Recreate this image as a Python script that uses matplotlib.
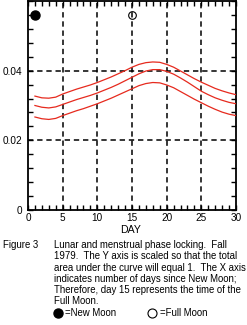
import matplotlib
matplotlib.use("Agg")
import matplotlib.pyplot as plt
from matplotlib.ticker import MultipleLocator, FuncFormatter

# Data
days = list(range(1, 31))
upper = [0.0327, 0.0322, 0.0321, 0.0324, 0.0333, 0.0340, 0.0347, 0.0353, 0.0359, 0.0366,
         0.0374, 0.0382, 0.0391, 0.0400, 0.0410, 0.0418, 0.0423, 0.0425, 0.0424, 0.0418,
         0.0410, 0.0399, 0.0388, 0.0377, 0.0367, 0.0358, 0.0349, 0.0342, 0.0336, 0.0331]
middle = [0.0300, 0.0295, 0.0293, 0.0296, 0.0303, 0.0310, 0.0317, 0.0323, 0.0329, 0.0336,
          0.0344, 0.0352, 0.0361, 0.0371, 0.0381, 0.0391, 0.0399, 0.0403, 0.0403, 0.0398,
          0.0390, 0.0379, 0.0367, 0.0354, 0.0341, 0.0331, 0.0322, 0.0315, 0.0309, 0.0305]
lower = [0.0267, 0.0262, 0.0260, 0.0263, 0.0271, 0.0278, 0.0285, 0.0291, 0.0298, 0.0305,
         0.0313, 0.0321, 0.0330, 0.0339, 0.0348, 0.0357, 0.0363, 0.0366, 0.0365, 0.0359,
         0.0351, 0.0340, 0.0329, 0.0318, 0.0308, 0.0298, 0.0289, 0.0281, 0.0275, 0.0271]

new_moon_day = 1
full_moon_day = 15
moon_level = 0.056

grid_x = [5, 10, 15, 20, 25]
grid_y = [0.02, 0.04]

x_label = "DAY"
fig_label = "Figure 3"
caption = [
    "Lunar and menstrual phase locking.  Fall",
    "1979.  The Y axis is scaled so that the total",
    "area under the curve will equal 1.  The X axis",
    "indicates number of days since New Moon;",
    "Therefore, day 15 represents the time of the",
    "Full Moon.",
]
legend_new = "=New Moon"
legend_full = "=Full Moon"

plt.rcParams["font.family"] = ["Liberation Sans", "DejaVu Sans"]

W, H = 247, 325
fig = plt.figure(figsize=(W / 100, H / 100), dpi=100)
ax = fig.add_axes([28 / W, 115 / H, 208 / W, 209 / H])

red = "#e62a1e"

# dashed grid
for gx in grid_x:
    ax.axvline(gx, color="black", lw=1.1, ls=(0, (3.5, 2.5)), zorder=1)
for gy in grid_y:
    ax.axhline(gy, color="black", lw=1.1, ls=(0, (3.5, 2.5)), zorder=1)

# the three curves
for series in (upper, middle, lower):
    ax.plot(days, series, color=red, lw=0.9, zorder=3)

# moon markers
ax.plot(new_moon_day, moon_level, "o", color="black", ms=6.5, zorder=4)
ax.plot(full_moon_day, moon_level, "o", mfc="none", mec="black", mew=0.8, ms=5.5, zorder=4)

ax.set_xlim(0, 30)
ax.set_ylim(0, 0.06)
ax.xaxis.set_major_locator(MultipleLocator(5))
ax.xaxis.set_minor_locator(MultipleLocator(1))
ax.yaxis.set_major_locator(MultipleLocator(0.02))
ax.yaxis.set_minor_locator(MultipleLocator(0.004))


def yfmt(v, pos):
    if abs(v) < 1e-9:
        return "0"
    if v > 0.05:
        return ""
    return "%.2f" % v


ax.yaxis.set_major_formatter(FuncFormatter(yfmt))
ax.tick_params(which="both", direction="in", top=True, right=True,
               length=3.5, width=1.0, labelsize=7.2, pad=2)
ax.tick_params(axis="y", pad=4)
for s in ax.spines.values():
    s.set_linewidth(1.3)

fig.text(131 / W, 1 - 230 / H, x_label, ha="center", va="center", fontsize=7.6)

# caption
cap_size = 6.9
fig.text(3 / W, 1 - 245 / H, fig_label, ha="left", va="center", fontsize=cap_size)
for i, line in enumerate(caption):
    fig.text(54 / W, 1 - (245 + i * 11.3) / H, line, ha="left", va="center", fontsize=cap_size)

# legend row
leg_y = 1 - 313 / H
fig.lines.append(plt.Line2D([58 / W], [leg_y], marker="o", color="black", ms=6.5,
                            transform=fig.transFigure, figure=fig))
fig.text(65 / W, leg_y, legend_new, ha="left", va="center", fontsize=cap_size)
fig.lines.append(plt.Line2D([152 / W], [leg_y], marker="o", mfc="none", mec="black",
                            mew=0.8, ms=6.5, transform=fig.transFigure, figure=fig))
fig.text(160 / W, leg_y, legend_full, ha="left", va="center", fontsize=cap_size)

fig.savefig("out.png", dpi=100)
